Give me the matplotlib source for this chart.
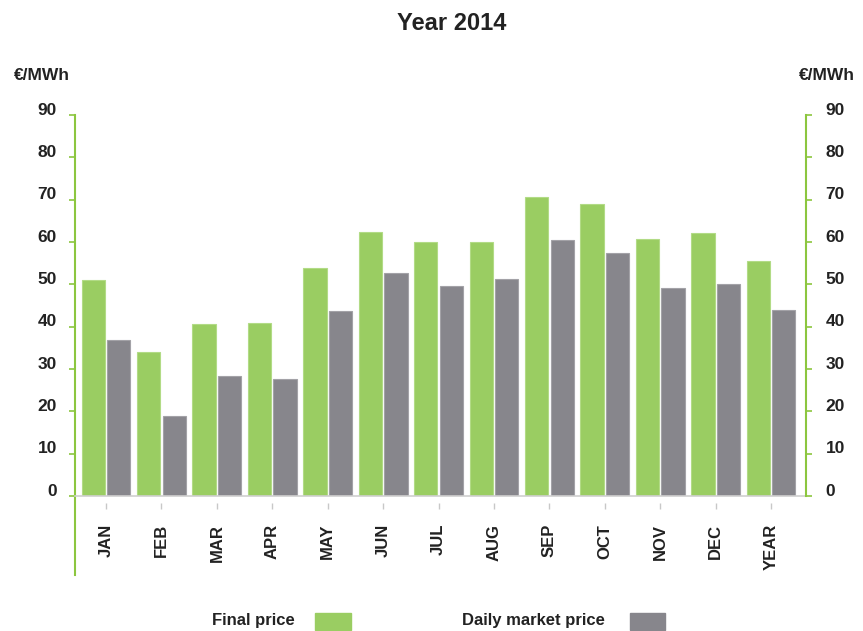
import numpy as np
import matplotlib.pyplot as plt
from matplotlib.transforms import ScaledTranslation

months = ['JAN', 'FEB', 'MAR', 'APR', 'MAY', 'JUN', 'JUL', 'AUG', 'SEP', 'OCT', 'NOV', 'DEC', 'YEAR']
final_price = [51.0, 33.9, 40.6, 40.9, 53.8, 62.4, 60.1, 60.1, 70.6, 68.9, 60.6, 62.2, 55.5]
daily_price = [36.9, 19.0, 28.3, 27.6, 43.8, 52.6, 49.7, 51.2, 60.5, 57.5, 49.1, 50.0, 44.0]
yticks = [0, 10, 20, 30, 40, 50, 60, 70, 80, 90]

green = '#9acd62'
gray = '#87868c'
spine_green = '#8cc63f'
txt = '#222222'

plt.rcParams['font.family'] = ['Liberation Sans', 'DejaVu Sans']

W, H = 863, 631
fig = plt.figure(figsize=(W / 100, H / 100), dpi=100)
# axes box in pixels: x 75..806, y 115 (90) .. 496 (0)
ax = fig.add_axes([75 / W, 1 - 496 / H, (806 - 75) / W, (496 - 115) / H])

x = np.arange(len(months))
w = 0.42
ax.bar(x - w / 2 - 0.02, final_price, w, color=green, edgecolor='#b2db86', linewidth=0.8)
ax.bar(x + w / 2 + 0.02, daily_price, w, color=gray, edgecolor='#a3a2a7', linewidth=0.8)

ax.set_xlim(-0.56, 12.63)
ax.set_ylim(0, 90)

ax.spines['top'].set_visible(False)
ax.spines['right'].set_visible(False)
ax.spines['left'].set_color(spine_green)
ax.spines['left'].set_linewidth(1.5)
ax.spines['left'].set_bounds(-18.7, 90)
ax.spines['bottom'].set_color('#cfcfcf')
ax.spines['bottom'].set_linewidth(1.2)

ax.set_yticks(yticks)
ax.tick_params(axis='y', direction='out', length=4, width=1.2, color=spine_green,
               labelsize=12.5, labelcolor=txt, pad=9)
lift = ScaledTranslation(0, 4.5 / 72, fig.dpi_scale_trans)
for lab in ax.get_yticklabels():
    lab.set_transform(lab.get_transform() + lift)
    lab.set_fontweight('bold')

ax.set_xticks(x)
ax.set_xticklabels(months, rotation=90, fontsize=12, color=txt, fontweight='bold')
ax.tick_params(axis='x', direction='out', length=4, width=1, color='#c8c8c8', pad=16)
drop = ScaledTranslation(0, -5 / 72, fig.dpi_scale_trans)
for t in ax.xaxis.get_major_ticks():
    t.tick1line.set_transform(t.tick1line.get_transform() + drop)

ax2 = ax.twinx()
ax2.set_ylim(0, 90)
ax2.set_yticks(yticks)
for s in ['top', 'left', 'bottom']:
    ax2.spines[s].set_visible(False)
ax2.spines['right'].set_color(spine_green)
ax2.spines['right'].set_linewidth(1.5)
ax2.tick_params(axis='y', direction='out', length=4, width=1.2, color=spine_green,
                labelsize=12.5, labelcolor=txt, pad=10)
for lab in ax2.get_yticklabels():
    lab.set_transform(lab.get_transform() + lift)
    lab.set_fontweight('bold')

fig.text(452 / W, 1 - 24 / H, 'Year 2014', ha='center', va='center',
         fontsize=17, fontweight='bold', color=txt)
fig.text(14 / W, 1 - 75 / H, '€/MWh', ha='left', va='center', fontsize=12.5,
         fontweight='bold', color=txt)
fig.text(799 / W, 1 - 75 / H, '€/MWh', ha='left', va='center', fontsize=12.5,
         fontweight='bold', color=txt)

# legend
fig.text(212 / W, 1 - 621 / H, 'Final price', ha='left', va='center', fontsize=12,
         fontweight='bold', color=txt)
fig.patches.append(plt.Rectangle((315 / W, 1 - 630 / H), 36 / W, 17 / H,
                                 transform=fig.transFigure, color=green))
fig.text(462 / W, 1 - 621 / H, 'Daily market price', ha='left', va='center', fontsize=12,
         fontweight='bold', color=txt)
fig.patches.append(plt.Rectangle((630 / W, 1 - 630 / H), 35 / W, 17 / H,
                                 transform=fig.transFigure, color=gray))

fig.savefig('out.png', dpi=100)
